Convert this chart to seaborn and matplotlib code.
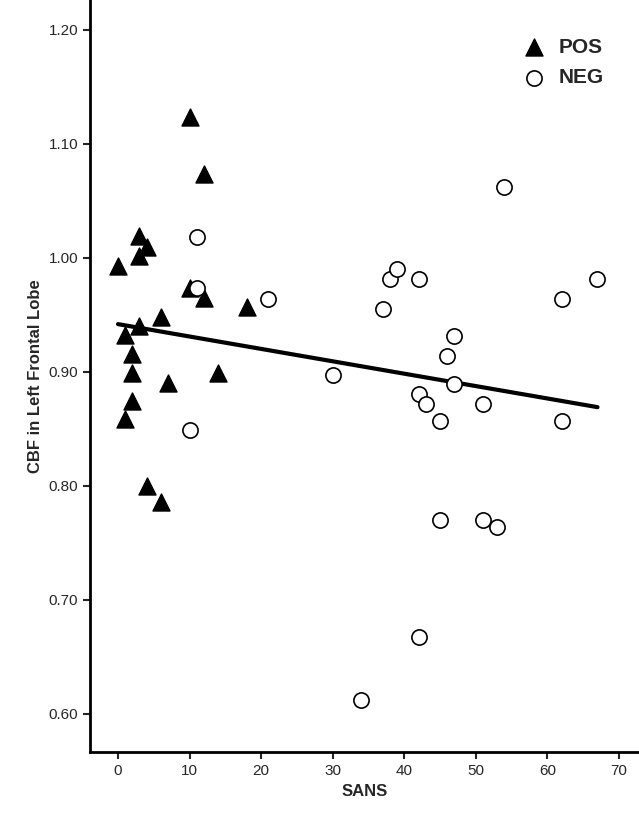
import matplotlib
matplotlib.use("Agg")
import matplotlib.pyplot as plt
import seaborn as sns
import numpy as np
import pandas as pd

pos_x = [0, 1, 1, 2, 2, 2, 3, 3, 4, 3, 4, 6, 6, 7, 10, 10, 12, 12, 14, 18]
pos_y = [0.993, 0.932, 0.858, 0.915, 0.899, 0.874, 1.019, 1.001, 1.009, 0.940,
         0.800, 0.948, 0.786, 0.890, 1.123, 0.973, 1.073, 0.965, 0.899, 0.957]
neg_x = [11, 11, 10, 21, 30, 34, 37, 38, 39, 42, 42, 43, 45, 45, 42, 46, 47, 47,
         51, 51, 53, 54, 62, 62, 67]
neg_y = [1.018, 0.973, 0.849, 0.964, 0.897, 0.612, 0.955, 0.981, 0.990, 0.981,
         0.880, 0.872, 0.857, 0.770, 0.667, 0.914, 0.931, 0.889, 0.872, 0.770,
         0.764, 1.062, 0.964, 0.857, 0.981]

df = pd.DataFrame({"SANS": pos_x + neg_x, "CBF": pos_y + neg_y,
                   "grp": ["POS"] * len(pos_x) + ["NEG"] * len(neg_x)})

sns.set_style("white")
plt.rcParams["font.family"] = ["Liberation Sans", "DejaVu Sans"]
fig = plt.figure(figsize=(6.39, 8.24), dpi=100)
ax = fig.add_axes([0.141, 0.087, 0.859, 0.913])

sns.regplot(data=df, x="SANS", y="CBF", scatter=False, ci=None, ax=ax,
            line_kws=dict(color="black", lw=3), truncate=True)
p = df[df.grp == "POS"]
n = df[df.grp == "NEG"]
ax.scatter(p.SANS, p.CBF, marker="^", s=150, color="black", label="POS", zorder=3)
ax.scatter(n.SANS, n.CBF, marker="o", s=120, facecolor="white", edgecolor="black",
           lw=1.2, label="NEG", zorder=3)

ax.set_xlim(-3.9, 72.8)
ax.set_ylim(0.566, 1.226)
ax.set_xticks(range(0, 71, 10))
ax.set_yticks([0.6, 0.7, 0.8, 0.9, 1.0, 1.1, 1.2])
ax.set_yticklabels([f"{v:.2f}" for v in [0.6, 0.7, 0.8, 0.9, 1.0, 1.1, 1.2]])
ax.tick_params(direction="out", length=5, width=1.5, labelsize=11, left=True, bottom=True)
for s in ["top", "right"]:
    ax.spines[s].set_visible(False)
for s in ["left", "bottom"]:
    ax.spines[s].set_linewidth(2)
    ax.spines[s].set_color("black")
ax.set_xlabel("SANS", fontsize=12, fontweight="bold")
ax.set_ylabel("CBF in Left Frontal Lobe", fontsize=12, fontweight="bold")
ax.legend(loc="upper right", bbox_to_anchor=(0.97, 0.975), frameon=False,
          prop=dict(size=15, weight="bold"), handletextpad=0.2, labelspacing=0.55)
fig.savefig("out.png", dpi=100)
